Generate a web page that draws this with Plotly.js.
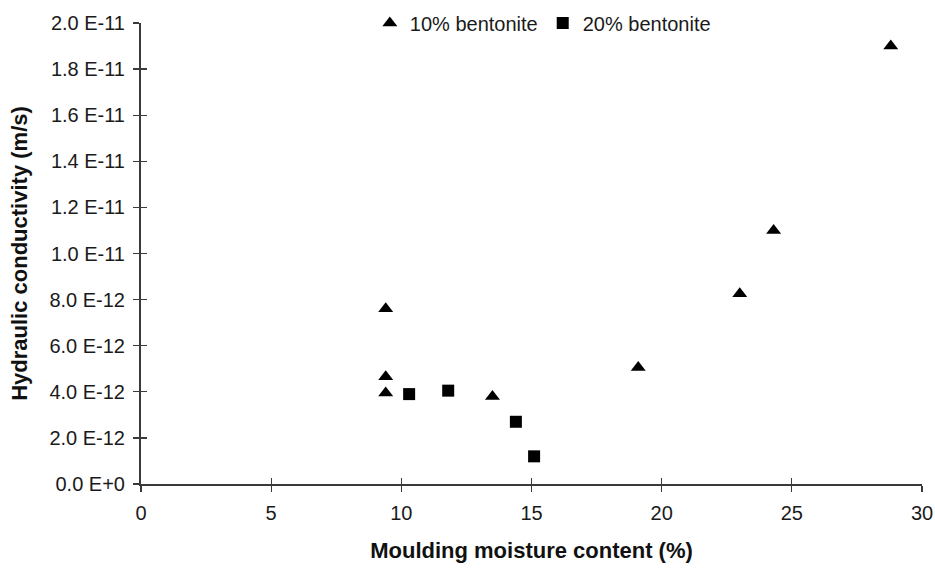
<!DOCTYPE html>
<html>
<head>
<meta charset="utf-8">
<script src="https://cdn.plot.ly/plotly-3.0.1.min.js"></script>
<style>
  html, body { margin: 0; padding: 0; background: #fff; }
  #chart { width: 935px; height: 568px; }
</style>
</head>
<body>
<div id="chart"></div>
<script>
// Moulding moisture content (%) and hydraulic conductivity (m/s)
const moisture10 = [9.4, 9.4, 9.4, 13.5, 19.1, 23.0, 24.3, 28.8];
const conductivity10 = [7.6e-12, 4.65e-12, 3.95e-12, 3.8e-12, 5.05e-12, 8.25e-12, 11.0e-12, 19.0e-12];

const moisture20 = [10.3, 11.8, 14.4, 15.1];
const conductivity20 = [3.9e-12, 4.05e-12, 2.7e-12, 1.2e-12];

const seriesNames = ['10% bentonite', '20% bentonite'];

const xTickVals = [0, 5, 10, 15, 20, 25, 30];
const yTickVals = [0, 2e-12, 4e-12, 6e-12, 8e-12, 1e-11, 1.2e-11, 1.4e-11, 1.6e-11, 1.8e-11, 2e-11];
const yTickText = ['0.0 E+0', '2.0 E-12', '4.0 E-12', '6.0 E-12', '8.0 E-12', '1.0 E-11',
                   '1.2 E-11', '1.4 E-11', '1.6 E-11', '1.8 E-11', '2.0 E-11'];

const FONT = 'Liberation Sans, Arial, sans-serif';
const AXIS_COLOR = '#3a3a3a';
const TEXT_COLOR = '#1a1a1a';
const xRange = [0, 30];
const yRange = [0, 2e-11];

const traces = [
  {
    x: moisture10, y: conductivity10, name: seriesNames[0],
    type: 'scatter', mode: 'markers', cliponaxis: false,
    marker: { symbol: 'triangle-up', size: 13, color: '#000' }
  },
  {
    x: moisture20, y: conductivity20, name: seriesNames[1],
    type: 'scatter', mode: 'markers', cliponaxis: false,
    marker: { symbol: 'square', size: 12, color: '#000' }
  },
  // empty trace that carries the overlay axes used for the inner half of each tick
  { x: [], y: [], xaxis: 'x2', yaxis: 'y2', type: 'scatter', mode: 'markers',
    showlegend: false, hoverinfo: 'skip' }
];

const layout = {
  width: 935, height: 568,
  margin: { l: 141, r: 13, t: 23, b: 84, autoexpand: false },
  paper_bgcolor: '#fff', plot_bgcolor: '#fff',
  font: { family: FONT, size: 20, color: TEXT_COLOR },
  showlegend: true,
  legend: {
    orientation: 'h', x: 0.293, xanchor: 'left', y: 1.0, yanchor: 'middle',
    font: { family: FONT, size: 20, color: TEXT_COLOR },
    bgcolor: 'rgba(0,0,0,0)', tracegroupgap: 0, itemwidth: 30
  },
  xaxis: {
    range: xRange, tickvals: xTickVals, ticks: 'outside', ticklen: 6, tickwidth: 1.3,
    tickcolor: AXIS_COLOR, showline: true, linecolor: AXIS_COLOR, linewidth: 2,
    showgrid: false, zeroline: false, ticklabelstandoff: 4,
    tickfont: { family: FONT, size: 20, color: TEXT_COLOR },
    title: { text: '<b>Moulding moisture content (%)</b>', font: { family: FONT, size: 22, color: '#111' }, standoff: 20 }
  },
  yaxis: {
    range: yRange, tickvals: yTickVals, ticktext: yTickText, ticks: 'outside', ticklen: 6, tickwidth: 1.3,
    tickcolor: AXIS_COLOR, showline: true, linecolor: AXIS_COLOR, linewidth: 2,
    showgrid: false, zeroline: false, ticklabelstandoff: 4,
    tickfont: { family: FONT, size: 20, color: TEXT_COLOR },
    title: { text: '<b>Hydraulic conductivity (m/s)</b>', font: { family: FONT, size: 22, color: '#111' }, standoff: 16 }
  },
  xaxis2: {
    overlaying: 'x', anchor: 'y2', side: 'bottom', range: xRange, tickvals: xTickVals,
    ticks: 'inside', ticklen: 6, tickwidth: 1.3, tickcolor: AXIS_COLOR,
    showticklabels: false, showline: false, showgrid: false, zeroline: false
  },
  yaxis2: {
    overlaying: 'y', anchor: 'x2', side: 'left', range: yRange, tickvals: yTickVals,
    ticks: 'inside', ticklen: 6, tickwidth: 1.3, tickcolor: AXIS_COLOR,
    showticklabels: false, showline: false, showgrid: false, zeroline: false
  }
};

Plotly.newPlot('chart', traces, layout, { displayModeBar: false, staticPlot: true });
</script>
</body>
</html>
